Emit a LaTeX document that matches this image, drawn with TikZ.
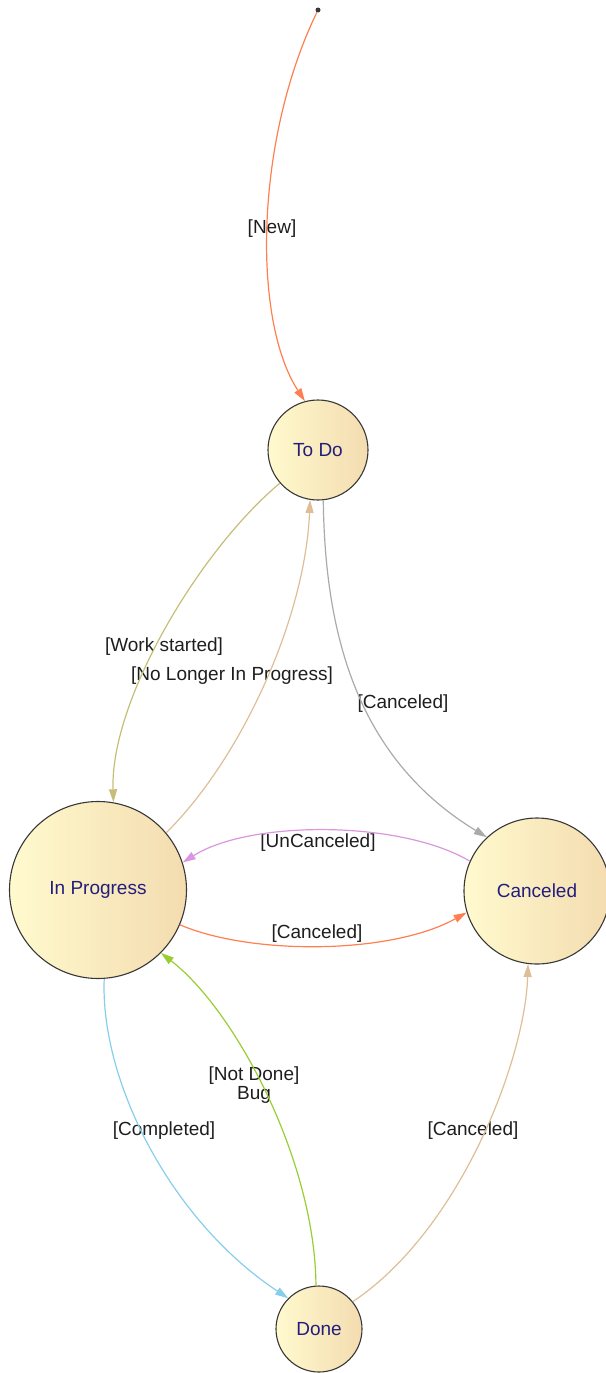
\documentclass[tikz,border=0pt]{standalone}
\usepackage{fontspec}
\setmainfont{Liberation Sans}
\usepackage{tikz}
\usetikzlibrary{arrows.meta}
\definecolor{statelight}{RGB}{255,250,206}
\definecolor{statedark}{RGB}{243,220,176}
\definecolor{stateborder}{RGB}{55,55,55}
\definecolor{statetext}{RGB}{35,30,125}
\definecolor{labeltext}{RGB}{30,30,30}
\definecolor{mycoral}{RGB}{255,127,80}
\definecolor{mykhaki}{RGB}{196,190,120}
\definecolor{mytan}{RGB}{222,190,150}
\definecolor{mygray}{RGB}{170,170,170}
\definecolor{myplum}{RGB}{218,150,222}
\definecolor{mysky}{RGB}{135,206,235}
\definecolor{mygreen}{RGB}{154,205,50}
\newcommand{\labelfont}{\fontsize{19}{22}\selectfont}
\tikzset{
    state/.style={draw=stateborder, circle, line width=1.1pt, left color=statelight, right color=statedark,
        text=statetext, inner sep=0pt, font=\labelfont},
    lbl/.style={text=labeltext, align=center, inner sep=0pt, font=\labelfont},
    tr/.style={line width=1.2pt, -{Triangle[length=13pt,width=8pt]}},
    init/.style={circle, fill=stateborder, inner sep=0pt, minimum size=5pt}
}

\begin{document}
\begin{tikzpicture}[x=1pt, y=-1pt]
    \useasboundingbox (0,0) rectangle (605,1373);

    \node[init] (start) at (318,10) {};
    \node[state, minimum size=100pt] (todo) at (318,450) {To Do};
    \node[state, minimum size=177pt] (inprog) at (98,890) {In Progress};
    \node[state, minimum size=146pt] (canc) at (537,891) {Canceled};
    \node[state, minimum size=86pt] (done) at (319,1329) {Done};

    \node[lbl] (l-new) at (272,229) {[New]};
    \node[lbl] (l-work) at (164,647) {[Work started]};
    \node[lbl] (l-nolonger) at (232,676) {[No Longer In Progress]};
    \node[lbl] (l-canc-todo) at (403,704) {[Canceled]};
    \node[lbl] (l-uncanc) at (318,843) {[UnCanceled]};
    \node[lbl] (l-canc-prog) at (317,934) {[Canceled]};
    \node[lbl] (l-completed) at (164,1131) {[Completed]};
    \node[lbl] (l-notdone) at (254,1085) {[Not Done]\\[-3pt]Bug};
    \node[lbl] (l-canc-done) at (473,1131) {[Canceled]};

    \draw[tr, mycoral] (start) .. controls (255,140) and (252,320) .. (todo.105);
    \draw[tr, mykhaki] (todo.221) .. controls (200,550) and (110,700) .. (inprog.80);
    \draw[tr, mytan] (inprog.40) .. controls (240,760) and (305,620) .. (todo.261);
    \draw[tr, mygray] (todo.276) .. controls (325,640) and (360,760) .. (canc.133);
    \draw[tr, myplum] (canc.156) .. controls (400,820) and (250,820) .. (inprog.18);
    \draw[tr, mycoral] (inprog.337) .. controls (250,955) and (390,955) .. (canc.197);
    \draw[tr, mysky] (inprog.274) .. controls (100,1080) and (170,1220) .. (done.135);
    \draw[tr, mygreen] (done.94) .. controls (315,1160) and (235,1010) .. (inprog.315);
    \draw[tr, mytan] (done.39) .. controls (460,1230) and (525,1060) .. (canc.263);
\end{tikzpicture}
\end{document}
